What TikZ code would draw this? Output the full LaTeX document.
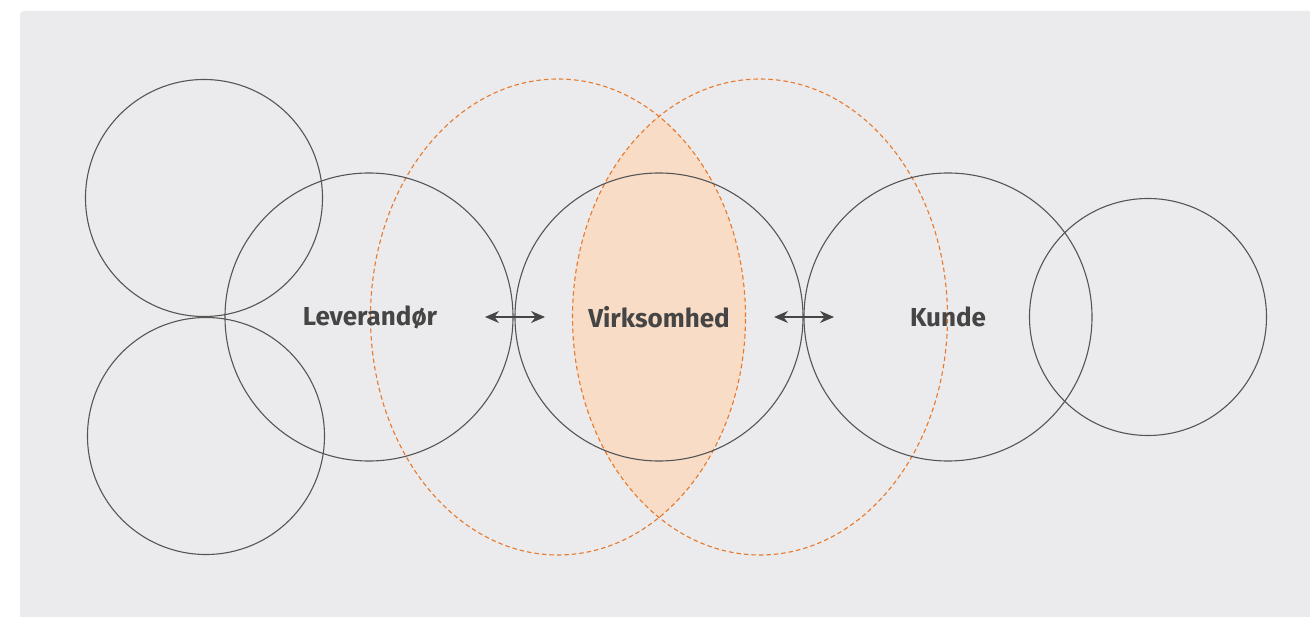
\documentclass[tikz,border=0pt]{standalone}
\usepackage{fontspec}
\setmainfont{Fira Sans}
\usetikzlibrary{shapes.geometric,arrows.meta}
\definecolor{bgc}{HTML}{EBEBED}
\definecolor{lensc}{HTML}{F8DCC5}
\definecolor{dashc}{HTML}{E8782A}
\definecolor{linec}{HTML}{555555}
\definecolor{textc}{HTML}{454545}
\begin{document}
\begin{tikzpicture}[x=1pt,y=-1pt,
  ring/.style={draw=linec,line width=1.1pt,circle,inner sep=0pt},
  small/.style={ring,minimum size=237pt},
  big/.style={ring,minimum size=288pt},
  zone/.style={draw=dashc,line width=1.1pt,dash pattern=on 4.5pt off 3pt,ellipse,inner sep=0pt,minimum width=375pt,minimum height=476pt},
  lbl/.style={font=\fontsize{26}{30}\selectfont\bfseries,text=textc},
  link/.style={draw=textc,line width=1.6pt,{Stealth[length=14pt,width=12pt]}-{Stealth[length=14pt,width=12pt]}}]
\useasboundingbox (0,0) rectangle (1310,617);
\begin{scope}
\clip (0,0) rectangle (1310,617);
\fill[bgc,rounded corners=4pt] (20,11) rectangle (1330,640);
\end{scope}
% lens
\begin{scope}
\clip (558,317) ellipse [x radius=187.5, y radius=238];
\fill[lensc] (760,317) ellipse [x radius=187.5, y radius=238];
\end{scope}
\node[zone] (zl) at (558,317) {};
\node[zone] (zr) at (760,317) {};
\node[small] (tl) at (204,198) {};
\node[small] (bl) at (206,436) {};
\node[small] (rr) at (1148,317) {};
\node[big] (lev) at (369,317) {};
\node[big] (vir) at (659,317) {};
\node[big] (kun) at (948,317) {};
\node[lbl] (tlev) at (370,317) {Leverandør};
\node[lbl] (tvir) at (659,317) {Virksomhed};
\node[lbl] (tkun) at (948,317) {Kunde};
\coordinate (a1) at (485,317);
\coordinate (a2) at (545,317);
\coordinate (b1) at (774,317);
\coordinate (b2) at (834,317);
\draw[link] (a1) -- (a2);
\draw[link] (b1) -- (b2);
\end{tikzpicture}
\end{document}
